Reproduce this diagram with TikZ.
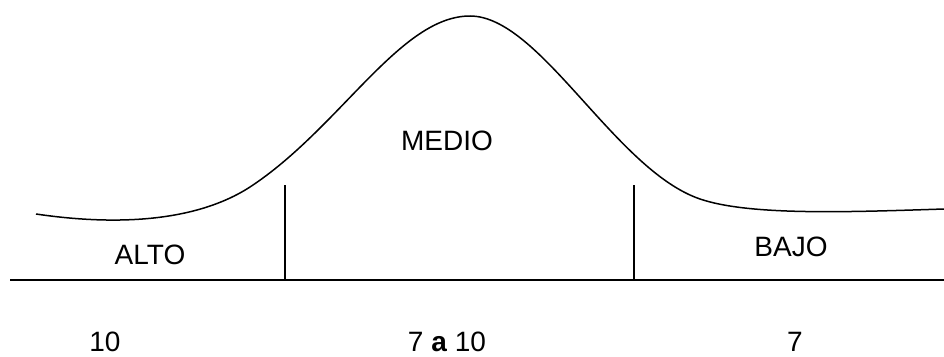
\documentclass[tikz,border=0pt]{standalone}
\usepackage{fontspec}
\setmainfont{Liberation Sans}
\begin{document}
\begin{tikzpicture}[x=1pt,y=-1pt,
  lbl/.style={anchor=base,inner sep=0pt,font=\fontsize{28}{34}\selectfont},
  ln/.style={line width=1.6pt,black},
  crv/.style={line width=1.5pt,black}]
\useasboundingbox (0,0) rectangle (944,356);
\coordinate (bl) at (10,280);
\coordinate (br) at (944,280);
\coordinate (v1t) at (285,185);
\coordinate (v1b) at (285,280);
\coordinate (v2t) at (634,185);
\coordinate (v2b) at (634,280);
\coordinate (c0) at (36,214);
\coordinate (c1) at (250,187);
\coordinate (pk) at (470,16);
\coordinate (c3) at (700,199);
\coordinate (c4) at (944,209);
\draw[ln] (bl) -- (br);
\draw[ln] (v1t) -- (v1b);
\draw[ln] (v2t) -- (v2b);
\draw[crv] (c0) .. controls (90,222) and (185,229) .. (c1)
  .. controls (340,128) and (400,16) .. (pk)
  .. controls (540,16) and (615,170) .. (c3)
  .. controls (750,216) and (850,212) .. (c4);
\node[lbl] (medio) at (447,150) {MEDIO};
\node[lbl] (alto) at (150,264) {ALTO};
\node[lbl] (bajo) at (791,256) {BAJO};
\node[lbl] (n10) at (105,351) {10};
\node[lbl] (n7a10) at (447,351) {7 \textbf{a} 10};
\node[lbl] (n7) at (795,351) {7};
\end{tikzpicture}
\end{document}
